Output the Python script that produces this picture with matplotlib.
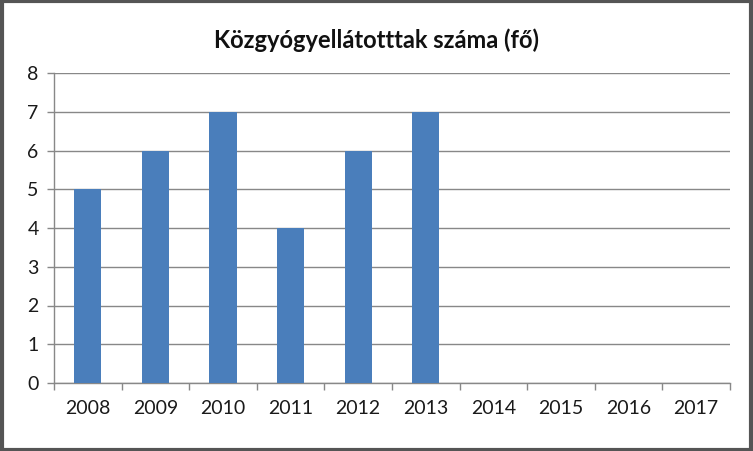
import matplotlib
matplotlib.use("Agg")
import matplotlib.pyplot as plt
import numpy as np
from matplotlib.patches import Rectangle

years = ["2008", "2009", "2010", "2011", "2012", "2013", "2014", "2015", "2016", "2017"]
values = [5, 6, 7, 4, 6, 7, np.nan, np.nan, np.nan, np.nan]
y_ticks = [0, 1, 2, 3, 4, 5, 6, 7, 8]
title = "Közgyógyellátotttak száma (fő)"

plt.rcParams['font.family'] = ['Lato', 'DejaVu Sans']

fig = plt.figure(figsize=(7.53, 4.51), dpi=100)
fig.patch.set_facecolor("white")
ax = fig.add_axes([54/753, 1-383/451, (730-54)/753, (383-73)/451])

x = np.arange(len(years))
ax.bar(x, values, width=0.4, color="#4A7EBB", zorder=3)

ax.set_xlim(-0.5, len(years)-0.5)
ax.set_ylim(0, 8)
ax.set_yticks(y_ticks)
ax.set_yticklabels([str(t) for t in y_ticks], fontsize=14, color="#1a1a1a")
ax.set_xticks(x)
ax.set_xticklabels(years, fontsize=14, color="#1a1a1a")
ax.tick_params(axis='x', which='major', length=0, pad=12)
ax.set_xticks(np.arange(-0.5, len(years), 1), minor=True)
ax.tick_params(axis='x', which='minor', length=5, color="#888888", width=1)
ax.tick_params(axis='y', length=5, color="#888888", width=1, pad=6)

ax.yaxis.grid(True, color="#888888", linewidth=1, zorder=0)
for s in ["top", "right"]:
    ax.spines[s].set_visible(False)
for s in ["left", "bottom"]:
    ax.spines[s].set_color("#888888")
    ax.spines[s].set_linewidth(1)

fig.text(0.5, 1-40/451, title, ha="center", va="center", fontsize=17, fontweight="bold", color="#111111")

fig.patches.append(Rectangle((0.002, 0.003), 0.996, 0.994, transform=fig.transFigure,
                             fill=False, edgecolor="#555555", linewidth=3))

fig.savefig("out.png", dpi=100)
